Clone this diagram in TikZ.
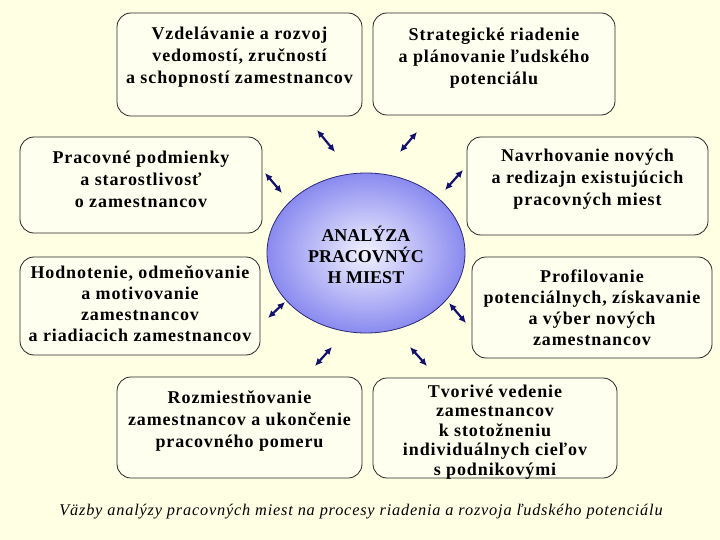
\documentclass[tikz,border=0pt]{standalone}
\usepackage{fontspec}
\setmainfont{Liberation Serif}[LetterSpace=5]
\usetikzlibrary{arrows.meta, shapes.geometric}
\definecolor{cbg}{HTML}{FFFFE3}
\definecolor{cbox}{HTML}{FFFFF0}
\definecolor{cnavy}{HTML}{12126E}
\definecolor{cedge}{HTML}{2A2A7A}
\tikzset{
  every picture/.style={x=1pt, y=-1pt},
  box/.style={draw=black!85, fill=cbox, rounded corners=14pt, line width=0.8pt, inner sep=0pt},
  txt/.style={align=center, font=\fontsize{18}{22}\selectfont\bfseries, inner sep=0pt},
  link/.style={{Latex[length=7.5pt,width=7pt]}-{Latex[length=7.5pt,width=7pt]}, draw=cnavy, line width=2.2pt},
  caption/.style={font=\fontsize{16.3}{19}\selectfont\itshape},
}

\begin{document}
\begin{tikzpicture}
  \fill[cbg] (0,0) rectangle (720,540);
  \useasboundingbox (0,0) rectangle (720,540);
  % boxes round the centre
  \node[box, minimum width=245pt, minimum height=103pt] (b1) at (239.5,64.5) {};
  \node[box, minimum width=242pt, minimum height=102pt] (b2) at (494,64) {};
  \node[box, minimum width=242pt, minimum height=96pt] (b3) at (141,185) {};
  \node[box, minimum width=241pt, minimum height=98pt] (b4) at (587.5,186) {};
  \node[box, minimum width=240pt, minimum height=98pt] (b5) at (140,306) {};
  \node[box, minimum width=240pt, minimum height=101pt] (b6) at (592,307.5) {};
  \node[box, minimum width=245pt, minimum height=101pt] (b7) at (239.5,427.5) {};
  \node[box, minimum width=244pt, minimum height=100pt] (b8) at (495,428) {};
  % texts
  \node[txt] (t1) at ([yshift=7.5pt]b1.center) {Vzdelávanie a rozvoj\\vedomostí, zručností\\a schopností zamestnancov};
  \node[txt] (t2) at ([yshift=6pt]b2.center) {Strategické riadenie\\a plánovanie ľudského\\potenciálu};
  \node[txt] (t3) at ([yshift=6pt]b3.center) {Pracovné podmienky\\a starostlivosť\\o zamestnancov};
  \node[txt] (t4) at ([yshift=7pt]b4.center) {Navrhovanie nových\\a redizajn existujúcich\\pracovných miest};
  \node[txt, font=\fontsize{18}{21}\selectfont\bfseries] (t5) at ([yshift=2pt]b5.center) {Hodnotenie, odmeňovanie\\a motivovanie\\zamestnancov\\a riadiacich zamestnancov};
  \node[txt, font=\fontsize{18}{21}\selectfont\bfseries] (t6) at (b6.center) {Profilovanie\\potenciálnych, získavanie\\a výber nových\\zamestnancov};
  \node[txt] (t7) at ([yshift=6.5pt]b7.center) {Rozmiestňovanie\\zamestnancov a ukončenie\\pracovného pomeru};
  \node[txt, font=\fontsize{18}{19.5}\selectfont\bfseries] (t8) at ([yshift=-4pt]b8.center) {Tvorivé vedenie\\zamestnancov\\k stotožneniu\\individuálnych cieľov\\s podnikovými};
  % centre
  \node[ellipse, draw=cedge, line width=0.8pt, inner color={rgb,255:red,242;green,242;blue,255}, outer color={rgb,255:red,138;green,138;blue,240},
    minimum width=198pt, minimum height=160pt] (ana) at (366,253) {};
  \node[txt, font=\fontsize{18}{21}\selectfont\bfseries\addfontfeature{LetterSpace=0}] (tana) at ([yshift=-2pt]ana.center) {ANALÝZA\\PRACOVNÝC\\H MIEST};
  % links
  \foreach \n/\xa/\ya/\xb/\yb in {1/317/130/335/152, 2/400/152/417/132, 3/265/173/282/193, 4/445/190/463/170,
      5/268/318/285/302, 6/449/303/466/323, 7/315/366/332/347, 8/410/347/427/366} {
    \coordinate (a\n s) at (\xa,\ya);
    \coordinate (a\n e) at (\xb,\yb);
    \draw[link] (a\n s) -- (a\n e);
  }
  \node[caption] (cap) at (361,512) {Väzby analýzy pracovných miest na procesy riadenia a rozvoja ľudského potenciálu};
\end{tikzpicture}
\end{document}
